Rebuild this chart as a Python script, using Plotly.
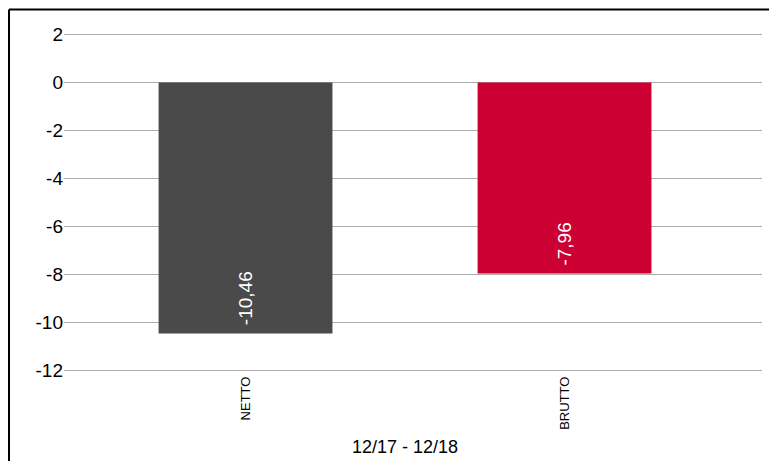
import plotly.graph_objects as go

categories = ["NETTO", "BRUTTO"]
values = [-10.46, -7.96]
bar_colors = ["#4a4a4a", "#cc0033"]
value_labels = ["-10,46", "-7,96"]
y_ticks = [2, 0, -2, -4, -6, -8, -10, -12]
x_title = "12/17 - 12/18"

# The page body adds an 8px margin, so figure coords = screen coords - 8
OFF = 8
W, H = 777 - 2 * OFF, 469 - 2 * OFF
ML, MT = 64 - OFF, 23.6
MR = W - (762 - OFF)
MB = 87.6
PW, PH = W - ML - MR, H - MT - MB

def px_x(p):
    return (p - OFF - ML) / PW

def px_y(p):
    return (H - MB - (p - OFF)) / PH

FONT = "Liberation Sans, Arial, Helvetica, sans-serif"

fig = go.Figure()
fig.add_trace(go.Bar(
    x=categories,
    y=values,
    marker=dict(color=bar_colors, line=dict(width=0)),
    width=0.545,
    hoverinfo="skip",
))

for c, v, lab in zip(categories, values, value_labels):
    fig.add_annotation(
        x=c, y=v, xref="x", yref="y",
        text=lab, showarrow=False, textangle=-90,
        xanchor="center", yanchor="bottom", yshift=6,
        font=dict(size=19, color="white", family=FONT),
    )

fig.add_annotation(
    x=0.5, y=px_y(448), xref="x", yref="paper",
    text=x_title, showarrow=False,
    font=dict(size=18, color="black", family=FONT),
    xanchor="center", yanchor="middle",
)

# Frame (left and top edges)
fig.add_shape(type="line", xref="paper", yref="paper",
              x0=px_x(OFF + 1), x1=px_x(800), y0=px_y(OFF + 1), y1=px_y(OFF + 1),
              line=dict(color="black", width=2))
fig.add_shape(type="line", xref="paper", yref="paper",
              x0=px_x(OFF + 1), x1=px_x(OFF + 1), y0=px_y(OFF + 1), y1=px_y(500),
              line=dict(color="black", width=2))

fig.update_layout(
    width=W, height=H,
    margin=dict(l=ML, r=MR, t=MT, b=MB, pad=0),
    paper_bgcolor="white", plot_bgcolor="white",
    showlegend=False,
    font=dict(family=FONT, color="black"),
    xaxis=dict(
        type="category",
        range=[-0.569, 1.619],
        showgrid=False, zeroline=False, showline=False,
        tickangle=-90,
        tickfont=dict(size=13, color="black"),
        ticks="", ticklen=0,
    ),
    yaxis=dict(
        range=[-12.1, 2.1],
        tickvals=y_ticks,
        ticktext=[str(v) for v in y_ticks],
        showgrid=True, gridcolor="#acacac", gridwidth=1,
        zeroline=False, showline=False,
        ticks="", ticklen=0,
        tickfont=dict(size=19, color="black"),
    ),
)

fig.write_html("out.html")
